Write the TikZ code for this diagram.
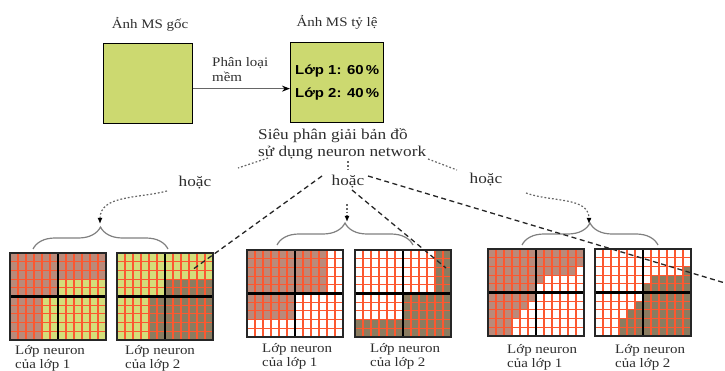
\documentclass[tikz,border=0pt]{standalone}
\usepackage{fontspec}
\setmainfont{Liberation Serif}[FakeStretch=1.15]
\newfontfamily\sansbold{Liberation Sans}[FakeStretch=1.15]
\usetikzlibrary{arrows.meta,decorations.pathreplacing}

\definecolor{panel}{RGB}{204,217,112}
\definecolor{cellfill}{RGB}{212,222,122}
\definecolor{classA}{RGB}{186,138,122}
\definecolor{classB}{RGB}{138,124,96}
\definecolor{cellline}{RGB}{252,88,48}
\definecolor{ink}{RGB}{45,45,45}

% fine sub-pixel grid of 12 x 10 cells, split into four coarse pixels
\newcommand\cellgrid{%
  \foreach \cx in {1,2,3,4,5,7,8,9,10,11}
    \draw[cellline, line width=1.1pt] (\cx,0) -- (\cx,10);
  \foreach \ry in {1,2,3,4,6,7,8,9}
    \draw[cellline, line width=1.1pt] (0,\ry) -- (12,\ry);
  \draw[black, line width=2.2pt] (6,0) -- (6,10) (0,5) -- (12,5);
  \draw[black!85, line width=2.2pt] (0,0) rectangle (12,10);
}

\begin{document}
\begin{tikzpicture}[x=1pt,y=-1pt,
  lbl/.style={inner sep=0pt, text=ink},
  box/.style={draw=black, line width=1.3pt, fill=panel},
  dotl/.style={draw=black!60, line width=1.2pt, dash pattern=on 1.8pt off 2pt},
  dashl/.style={draw=black!85, line width=1.3pt, dash pattern=on 5pt off 3.5pt},
  tip/.style={-{Latex[length=6pt,width=5pt,black]}},
  grp/.style={decorate, decoration={brace, amplitude=22pt}, draw=black!50, line width=1.2pt},
  toplbl/.style={lbl, font=\fontsize{13}{15}\selectfont},
  neur/.style={lbl, anchor=base west, font=\fontsize{13}{14}\selectfont},
  orlbl/.style={lbl, anchor=base, font=\fontsize{15}{17}\selectfont},
]
\useasboundingbox (0,0) rectangle (725,371);

% ---- original image and proportion image ----
\node[toplbl, anchor=base] (t1) at (150,29) {Ảnh MS gốc};
\node[toplbl, anchor=base] (t2) at (337,27) {Ảnh MS tỷ lệ};
\node[box, minimum width=89pt, minimum height=80pt, anchor=north west] (b1) at (103,43) {};
\node[box, minimum width=93pt, minimum height=80pt, anchor=north west, align=center,
      font=\sansbold\bfseries\fontsize{13}{23}\selectfont] (b2) at (290,42)
      {Lớp 1: 60\,\%\\Lớp 2: 40\,\%};
\draw[draw=black!60, line width=1.3pt, -{Stealth[length=8pt,width=6pt,black]}]
  ([yshift=-5pt]b1.east) -- ([yshift=-5pt]b1.east -| b2.west);
\node[toplbl, anchor=base west] (soft) at (212,67)
  {\begin{tabular}[t]{@{}l@{}}Phân loại\\mềm\end{tabular}};

\node[lbl, anchor=base west, font=\fontsize{15}{17}\selectfont] (sr) at (258,140)
  {\begin{tabular}[t]{@{}l@{}}Siêu phân giải bản đồ\\sử dụng neuron network\end{tabular}};

\node[orlbl] (or1) at (195,187) {hoặc};
\node[orlbl] (or2) at (348,186) {hoặc};
\node[orlbl] (or3) at (486,184) {hoặc};

% ---- sub-pixel maps ----
% option 1
\begin{scope}[shift={(10,340)}]\begin{scope}[x=8pt,y=8.7pt]
  \fill[cellfill] (0,0) rectangle (12,10);
  \fill[classA] (0,5) rectangle (6,10) (6,7) rectangle (12,10) (0,0) rectangle (4,5);
  \cellgrid
\end{scope}\end{scope}
\begin{scope}[shift={(117,340)}]\begin{scope}[x=8pt,y=8.7pt]
  \fill[cellfill] (0,0) rectangle (12,10);
  \fill[classB] (6,5) rectangle (12,7) (4,0) rectangle (6,5) (6,0) rectangle (12,5);
  \cellgrid
\end{scope}\end{scope}
% option 2
\begin{scope}[shift={(247,337)}]\begin{scope}[x=8pt,y=8.7pt]
  \fill[white] (0,0) rectangle (12,10);
  \fill[classA] (0,5) rectangle (6,10) (6,5) rectangle (10,10) (0,2) rectangle (6,5);
  \cellgrid
\end{scope}\end{scope}
\begin{scope}[shift={(355,337)}]\begin{scope}[x=8pt,y=8.7pt]
  \fill[white] (0,0) rectangle (12,10);
  \fill[classB] (10,5) rectangle (12,10) (0,0) rectangle (6,2) (6,0) rectangle (12,5);
  \cellgrid
\end{scope}\end{scope}
% option 3
\begin{scope}[shift={(488,336)}]\begin{scope}[x=8pt,y=8.7pt]
  \fill[white] (0,0) rectangle (12,10);
  \fill[classA] (0,5) rectangle (6,10) (6,8) rectangle (12,10) (6,7) rectangle (11,8)
    (6,6) rectangle (7,7) (0,4) rectangle (6,5) (0,3) rectangle (5,4)
    (0,2) rectangle (4,3) (0,0) rectangle (3,2);
  \cellgrid
\end{scope}\end{scope}
\begin{scope}[shift={(595,336)}]\begin{scope}[x=8pt,y=8.7pt]
  \fill[white] (0,0) rectangle (12,10);
  \fill[classB] (6,0) rectangle (12,6) (7,6) rectangle (12,7) (11,7) rectangle (12,8)
    (5,3) rectangle (6,4) (4,2) rectangle (6,3) (3,0) rectangle (6,2);
  \cellgrid
\end{scope}\end{scope}

% ---- captions ----
\node[neur] (n1) at (15,354)  {\begin{tabular}[t]{@{}l@{}}Lớp neuron\\của lớp 1\end{tabular}};
\node[neur] (n2) at (125,354) {\begin{tabular}[t]{@{}l@{}}Lớp neuron\\của lớp 2\end{tabular}};
\node[neur] (n3) at (262,352) {\begin{tabular}[t]{@{}l@{}}Lớp neuron\\của lớp 1\end{tabular}};
\node[neur] (n4) at (370,352) {\begin{tabular}[t]{@{}l@{}}Lớp neuron\\của lớp 2\end{tabular}};
\node[neur] (n5) at (507,353) {\begin{tabular}[t]{@{}l@{}}Lớp neuron\\của lớp 1\end{tabular}};
\node[neur] (n6) at (615,353) {\begin{tabular}[t]{@{}l@{}}Lớp neuron\\của lớp 2\end{tabular}};

% ---- braces grouping each pair ----
\coordinate (p1l) at (33,249);  \coordinate (p1r) at (168,249);
\coordinate (p2l) at (277,245); \coordinate (p2r) at (413,245);
\coordinate (p3l) at (522,245); \coordinate (p3r) at (658,245);
\draw[grp] (p1l) -- (p1r);
\draw[grp] (p2l) -- (p2r);
\draw[grp] (p3l) -- (p3r);

% ---- alternatives ----
\coordinate (a1) at (268,158); \coordinate (a1e) at (238,168);
\coordinate (a2) at (348,161); \coordinate (a2e) at (348,170);
\coordinate (a3) at (428,159); \coordinate (a3e) at (457,170);
\draw[dotl] (a1) -- (a1e);
\draw[dotl] (a2) -- (a2e);
\draw[dotl] (a3) -- (a3e);
\coordinate (k1) at (167,191); \coordinate (k1t) at (100,224);
\coordinate (k2) at (347,204); \coordinate (k2t) at (347,222);
\coordinate (k3) at (526,193); \coordinate (k3t) at (589,224);
\draw[dotl, tip] (k1) to[out=195,in=90] (k1t);
\draw[dotl, tip] (k2) -- (k2t);
\draw[dotl, tip] (k3) to[out=-20,in=90] (k3t);

% ---- long dashed leaders ----
\coordinate (d1) at (322,176); \coordinate (d1e) at (192,270);
\coordinate (d2) at (352,190); \coordinate (d2e) at (446,268);
\coordinate (d3) at (368,176); \coordinate (d3e) at (725,283);
\draw[dashl] (d1) -- (d1e);
\draw[dashl] (d2) -- (d2e);
\draw[dashl] (d3) -- (d3e);
\end{tikzpicture}
\end{document}
